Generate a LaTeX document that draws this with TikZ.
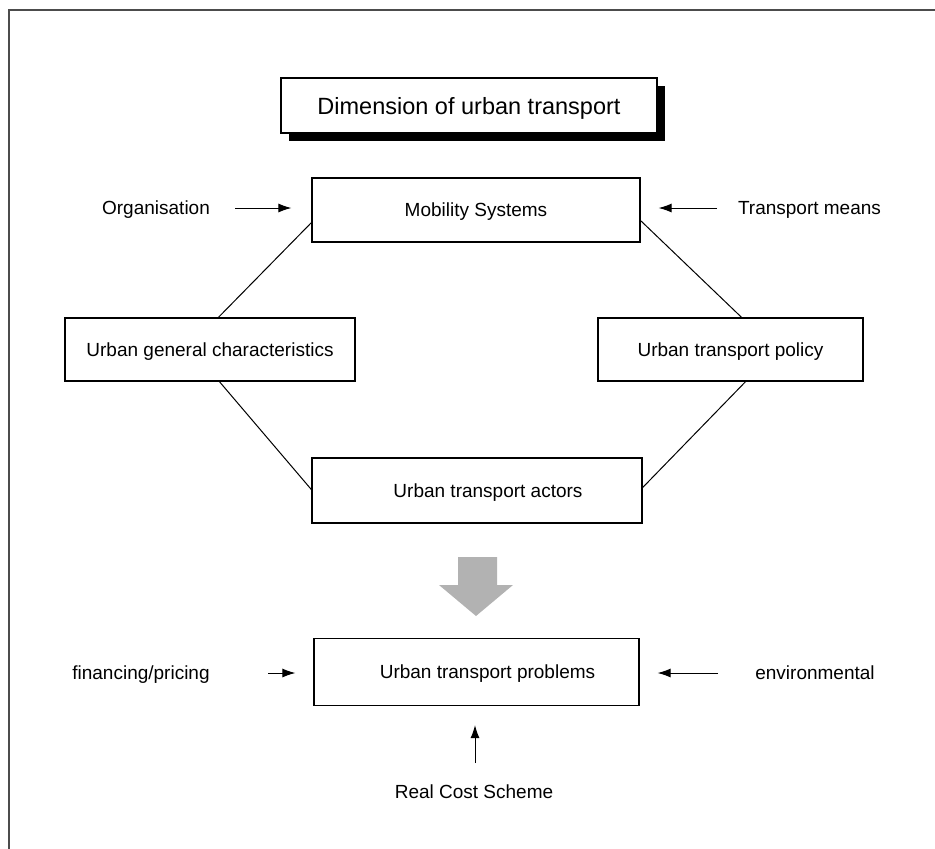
\documentclass[tikz,border=0pt]{standalone}
\usepackage{fontspec}
\setmainfont{Liberation Sans}
\usetikzlibrary{arrows.meta}
\begin{document}
\begin{tikzpicture}[x=1pt,y=-1pt,
  box/.style={draw=black,line width=1.2pt,fill=white,inner sep=0pt,text depth=0pt,font=\fontsize{19}{23}\selectfont},
  lbl/.style={inner sep=0pt,text depth=0pt,font=\fontsize{19}{23}\selectfont},
  conn/.style={line width=1pt},
  arr/.style={line width=1pt,-{Latex[length=13pt,width=9pt]}}]
\useasboundingbox (0,0) rectangle (935,849);
\draw[line width=1.5pt,black!70] (9,849) -- (9,10) -- (935,10);
% title
\fill[black] (289,86) rectangle (665,141);
\node[box,minimum width=376pt,minimum height=55pt,font=\fontsize{23.5}{28}\selectfont] (title) at (469,105.5) {Dimension of urban transport};
% boxes
\node[box,minimum width=328pt,minimum height=64pt] (mob) at (476,210) {Mobility Systems};
\node[box,minimum width=290pt,minimum height=63pt] (ugc) at (210,349.5) {Urban general characteristics};
\node[box,minimum width=265pt,minimum height=63pt] (pol) at (730.5,349.5) {Urban transport policy};
\node[box,minimum width=330pt,minimum height=65pt] (act) at (477,490.5) {\hspace*{22pt}Urban transport actors};
\node[box,minimum width=325pt,minimum height=67pt] (prob) at (476.5,672) {\hspace*{22pt}Urban transport problems};
% connectors
\draw[conn] ([yshift=20pt]mob.south west) -- ([xshift=154pt]ugc.north west);
\draw[conn] ([yshift=22pt]mob.south east) -- ([xshift=-122pt]pol.north east);
\draw[conn] ([xshift=155pt]ugc.south west) -- ([yshift=34pt]act.south west);
\draw[conn] ([xshift=-118pt]pol.south east) -- ([yshift=36pt]act.south east);
% side labels and arrows
\node[lbl] (org) at (156,208) {Organisation};
\coordinate (orgS) at (235,208);
\draw[arr] (orgS) -- ([xshift=-20pt]mob.west |- orgS);
\node[lbl] (tm) at (809.5,208) {Transport means};
\coordinate (tmS) at (717,208);
\draw[arr] (tmS) -- ([xshift=18pt]mob.east |- tmS);
\node[lbl] (fin) at (141,673) {financing/pricing};
\coordinate (finS) at (268,673);
\draw[arr] (finS) -- ([xshift=-18pt]prob.west |- finS);
\node[lbl] (env) at (815,673) {environmental};
\coordinate (envS) at (718,673);
\draw[arr] (envS) -- ([xshift=18pt]prob.east |- envS);
\node[lbl] (rcs) at (474,792) {Real Cost Scheme};
\coordinate (rcsS) at (475,763);
\draw[arr] (rcsS) -- ([yshift=-19pt]prob.south -| rcsS);
% big grey arrow
\fill[black!30] (458,557) -- (497,557) -- (497,585) -- (513,585) -- (476,616) -- (439,585) -- (458,585) -- cycle;
\end{tikzpicture}
\end{document}
